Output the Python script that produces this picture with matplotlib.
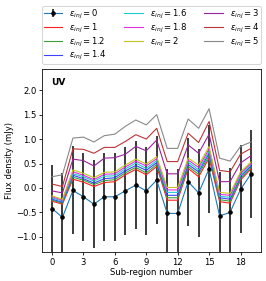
import matplotlib
matplotlib.use('Agg')
import matplotlib.pyplot as plt
import numpy as np

# sub-region index
regions = np.arange(20)

# flux density for each injection efficiency (mJy)
flux_0 = [-0.42, -0.60, -0.05, -0.18, -0.33, -0.18, -0.18, -0.06, 0.06, -0.06,
          0.16, -0.52, -0.52, 0.13, -0.10, 0.39, -0.57, -0.50, -0.03, 0.29]
flux_err = [0.90, 0.90, 0.90, 0.90, 0.90, 0.90, 0.90, 0.90, 0.90, 0.90,
            0.90, 0.90, 0.90, 0.90, 0.90, 0.90, 0.90, 0.90, 0.90, 0.90]
flux_1 = [-0.27, -0.33, 0.18, 0.12, 0.03, 0.11, 0.13, 0.27, 0.38, 0.27,
          0.44, -0.25, -0.25, 0.40, 0.23, 0.61, -0.28, -0.31, 0.16, 0.39]
flux_1_2 = [-0.25, -0.31, 0.22, 0.16, 0.07, 0.15, 0.17, 0.31, 0.42, 0.31,
            0.48, -0.20, -0.20, 0.44, 0.28, 0.66, -0.24, -0.27, 0.19, 0.42]
flux_1_4 = [-0.23, -0.29, 0.26, 0.19, 0.10, 0.19, 0.21, 0.35, 0.46, 0.36,
            0.52, -0.15, -0.15, 0.48, 0.33, 0.71, -0.20, -0.23, 0.23, 0.45]
flux_1_6 = [-0.20, -0.27, 0.29, 0.23, 0.14, 0.24, 0.25, 0.39, 0.51, 0.40,
            0.56, -0.09, -0.09, 0.53, 0.37, 0.75, -0.17, -0.19, 0.26, 0.48]
flux_1_8 = [-0.18, -0.25, 0.33, 0.26, 0.17, 0.28, 0.29, 0.43, 0.55, 0.45,
            0.60, -0.04, -0.04, 0.57, 0.42, 0.80, -0.13, -0.15, 0.30, 0.50]
flux_2 = [-0.16, -0.23, 0.37, 0.30, 0.21, 0.32, 0.33, 0.47, 0.59, 0.49,
          0.64, 0.01, 0.01, 0.61, 0.47, 0.85, -0.09, -0.11, 0.33, 0.53]
flux_3 = [-0.06, -0.10, 0.59, 0.56, 0.45, 0.61, 0.62, 0.69, 0.85, 0.76,
          0.98, 0.29, 0.29, 0.88, 0.71, 1.10, 0.13, 0.13, 0.51, 0.66]
flux_4 = [0.08, 0.03, 0.80, 0.79, 0.71, 0.83, 0.83, 0.95, 1.09, 1.00,
          1.22, 0.54, 0.54, 1.12, 0.93, 1.36, 0.36, 0.33, 0.69, 0.81]
flux_5 = [0.23, 0.27, 1.02, 1.04, 0.94, 1.07, 1.10, 1.26, 1.39, 1.29,
          1.50, 0.81, 0.81, 1.41, 1.22, 1.62, 0.61, 0.55, 0.85, 0.94]

eps_labels = ['1', '1.2', '1.4', '1.6', '1.8', '2', '3', '4', '5']
eps_colors = ['#ff1f1f', '#3a9f3a', '#3f3fff', '#1fcccc', '#e02ee0',
              '#c4c41f', '#9a229a', '#bb3333', '#888888']
eps_series = [flux_1, flux_1_2, flux_1_4, flux_1_6, flux_1_8, flux_2,
              flux_3, flux_4, flux_5]

fs = 8.5
fig = plt.figure(figsize=(266 / 72, 281 / 72), dpi=72)
ax = fig.add_axes([0.158, 0.103, 0.823, 0.651])

handles = []
eb = ax.errorbar(regions, flux_0, yerr=flux_err, fmt='o-', color='#1f77b4',
                 lw=1.1, ms=3.5, mfc='k', mec='k', ecolor='#111111',
                 elinewidth=1.6, label=r'$\epsilon_{inj}=0$', zorder=1)
handles.append(eb)
for lab, col, vals in zip(eps_labels, eps_colors, eps_series):
    ln, = ax.plot(regions, vals, color=col, lw=1.1,
                  label=r'$\epsilon_{inj}=' + lab + '$')
    handles.append(ln)

ax.set_xlim(-0.95, 19.95)
ax.set_ylim(-1.31, 2.43)
ax.set_xticks([0, 3, 6, 9, 12, 15, 18])
ax.set_yticks([-1.0, -0.5, 0.0, 0.5, 1.0, 1.5, 2.0])
ax.tick_params(labelsize=fs, length=3, pad=2.5)
ax.set_xlabel('Sub-region number', fontsize=fs, labelpad=1)
ax.set_ylabel('Flux density (mJy)', fontsize=fs, labelpad=2)
ax.text(0.04, 0.95, 'UV', transform=ax.transAxes, fontsize=9,
        fontweight='bold', va='top', ha='left')

ax.legend(handles=handles, bbox_to_anchor=(0., 1.027, 1., 0.3),
          loc='lower left', ncol=3, mode='expand', borderaxespad=0.,
          fontsize=fs, handlelength=2.2, labelspacing=0.1, borderpad=0.2)

fig.savefig('out.png', dpi=72)
